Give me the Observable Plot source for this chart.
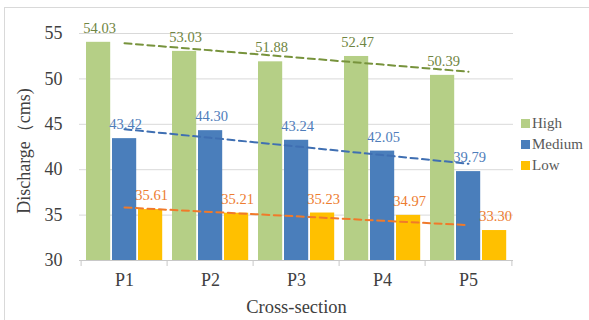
<!DOCTYPE html>
<html>
<head>
<meta charset="utf-8">
<script src="https://cdn.jsdelivr.net/npm/d3@7"></script>
<script src="https://cdn.jsdelivr.net/npm/@observablehq/plot@0.6"></script>
<style>
  html, body { margin: 0; padding: 0; background: #fff; overflow: hidden; }
  #wrap { position: relative; width: 589px; height: 320px; }
  #border { position: absolute; left: 4px; top: 7px; width: 700px; height: 400px; border: 1px solid #d9d9d9; pointer-events: none; }
  #legend { position: absolute; left: 521px; top: 113px; font-family: "Liberation Serif", "Times New Roman", serif; font-size: 15px; color: #595959; }
  #legend .row { display: flex; align-items: center; height: 21px; }
  #legend .sw { width: 8.5px; height: 8.5px; margin-right: 2.5px; }
</style>
</head>
<body>
<div id="wrap"><div id="chart"></div><div id="legend"></div><div id="border"></div></div>
<script>
const categories = ["P1", "P2", "P3", "P4", "P5"];
const seriesNames = ["High", "Medium", "Low"];
const high = [54.03, 53.03, 51.88, 52.47, 50.39];
const medium = [43.42, 44.30, 43.24, 42.05, 39.79];
const low = [35.61, 35.21, 35.23, 34.97, 33.30];
const yTicks = [30, 35, 40, 45, 50, 55];
const yLabel = "Discharge（cms)";
const xLabel = "Cross-section";

const barColors = ["#b5cf86", "#4a7ebb", "#ffc000"];
const trendColors = ["#77933c", "#3f6fb2", "#f07a2a"];
const labelColors = ["#6f8542", "#4f7dba", "#ed7d31"];

const W = 589, H = 320, mL = 79, mR = 76, mT = 33, mB = 60;
const bw = (W - mL - mR) / categories.length;
const barW = 25, gap = 1, outer = 5;
const FONT = "'Liberation Serif', 'Times New Roman', serif";

const valuesBySeries = [high, medium, low];
const marks = [];
marks.push(Plot.ruleY(yTicks.slice(1), {stroke: "#d9d9d9", strokeWidth: 1}));

valuesBySeries.forEach((vals, i) => {
  const rows = categories.map((c, j) => ({cat: c, value: vals[j]}));
  const insetLeft = outer + i * (barW + gap);
  const insetRight = bw - insetLeft - barW;
  marks.push(Plot.barY(rows, {x: "cat", y1: yTicks[0], y2: "value", fill: barColors[i], insetLeft, insetRight}));
});

marks.push(Plot.ruleY([yTicks[0]], {stroke: "#c8c8c8", strokeWidth: 1}));

// linear trend lines (least squares over category index)
valuesBySeries.forEach((vals, i) => {
  const n = vals.length;
  const xs = d3.range(1, n + 1);
  const mx = d3.mean(xs), my = d3.mean(vals);
  const slope = d3.sum(xs, (x, k) => (x - mx) * (vals[k] - my)) / d3.sum(xs, x => (x - mx) ** 2);
  const fit = categories.map((c, k) => ({cat: c, value: my + slope * (xs[k] - mx)}));
  marks.push(Plot.lineY(fit, {x: "cat", y: "value", stroke: trendColors[i], strokeWidth: 2, strokeDasharray: "7,4.5"}));
});

valuesBySeries.forEach((vals, i) => {
  const rows = categories.map((c, j) => ({cat: c, value: vals[j]}));
  const insetLeft = outer + i * (barW + gap);
  const dx = insetLeft + barW / 2 - bw / 2 + 1;
  marks.push(Plot.text(rows, {x: "cat", y: "value", text: d => d.value.toFixed(2), dx, dy: -14, fill: labelColors[i], fontSize: 14.5, fontFamily: FONT}));
});

marks.push(Plot.axisY({ticks: yTicks, tickSize: 0, tickPadding: 17, fontSize: 18, label: null, fill: "#404040", fontFamily: FONT, tickFormat: d => String(d)}));
marks.push(Plot.axisX({tickSize: 0, tickPadding: 13, fontSize: 18, label: null, fill: "#404040", fontFamily: FONT}));
marks.push(Plot.axisX({ticks: categories, tickSize: 6, tickPadding: 0, tickFormat: () => "", dx: -bw / 2, stroke: "#c8c8c8", label: null}));
marks.push(Plot.axisX({ticks: [categories[categories.length - 1]], tickSize: 6, tickPadding: 0, tickFormat: () => "", dx: bw / 2, stroke: "#c8c8c8", label: null}));

marks.push(Plot.text([xLabel], {frameAnchor: "bottom", textAnchor: "middle", text: d => d, dy: 52, fontSize: 18.5, fill: "#404040", fontFamily: FONT}));
marks.push(Plot.text([yLabel], {frameAnchor: "left", textAnchor: "middle", text: d => d, rotate: -90, dx: -55, dy: 4, fontSize: 18, fill: "#404040", fontFamily: FONT}));

const chart = Plot.plot({
  width: W, height: H,
  marginLeft: mL, marginRight: mR, marginTop: mT, marginBottom: mB,
  style: {fontFamily: FONT, background: "transparent", overflow: "visible"},
  x: {type: "band", domain: categories, padding: 0, axis: null},
  y: {domain: [yTicks[0], yTicks[yTicks.length - 1]], axis: null},
  marks
});
document.getElementById("chart").appendChild(chart);

const legend = document.getElementById("legend");
seriesNames.forEach((s, i) => {
  const row = document.createElement("div");
  row.className = "row";
  const sw = document.createElement("span");
  sw.className = "sw";
  sw.style.background = barColors[i];
  const t = document.createElement("span");
  t.textContent = s;
  row.appendChild(sw);
  row.appendChild(t);
  legend.appendChild(row);
});
</script>
</body>
</html>
